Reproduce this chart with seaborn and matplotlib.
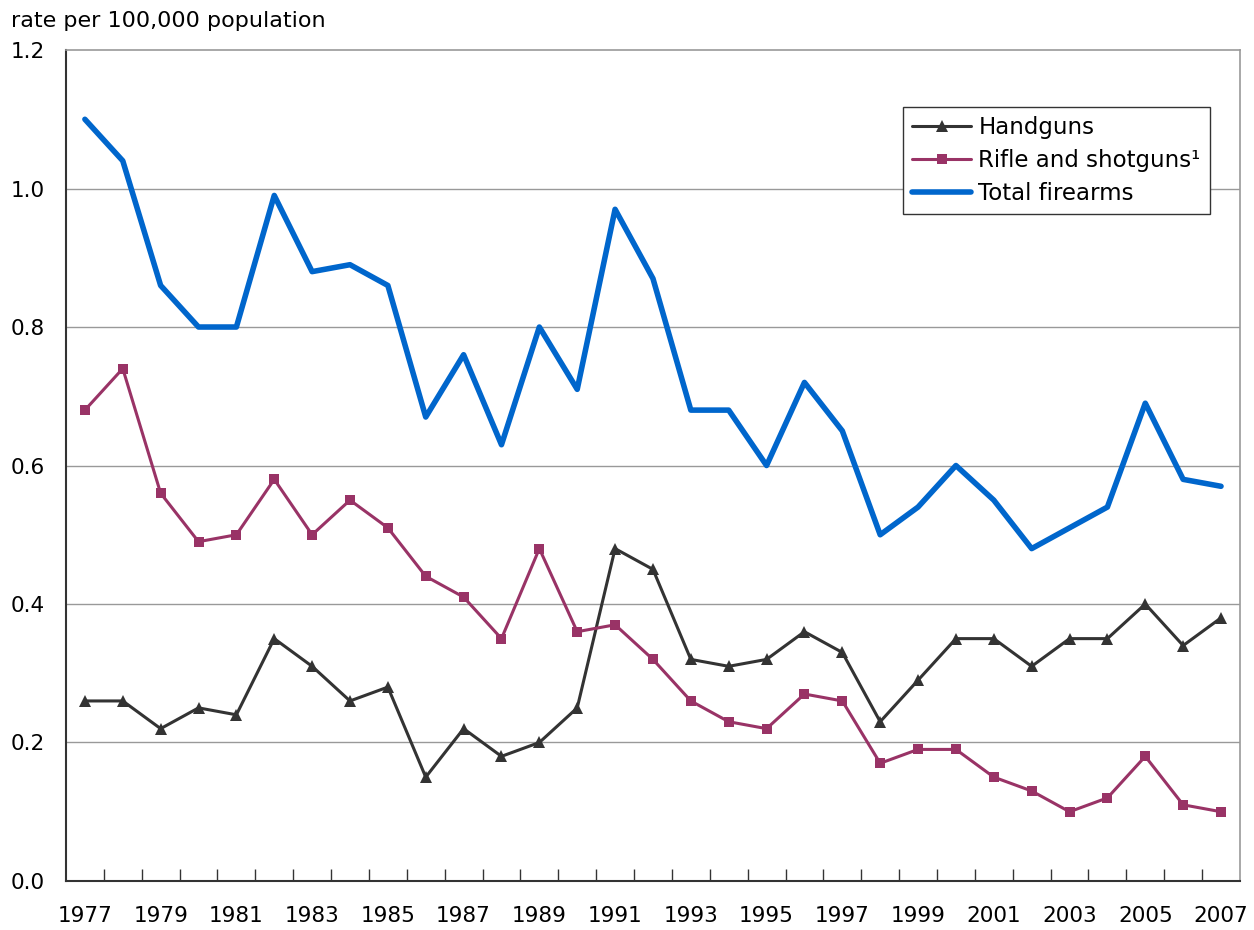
import numpy as np
import pandas as pd
import seaborn as sns
import matplotlib.pyplot as plt
from matplotlib.ticker import FixedLocator

years = list(range(1977, 2008))
handguns = [0.26, 0.26, 0.22, 0.25, 0.24, 0.35, 0.31, 0.26, 0.28, 0.15,
            0.22, 0.18, 0.20, 0.25, 0.48, 0.45, 0.32, 0.31, 0.32, 0.36,
            0.33, 0.23, 0.29, 0.35, 0.35, 0.31, 0.35, 0.35, 0.40, 0.34, 0.38]
rifles = [0.68, 0.74, 0.56, 0.49, 0.50, 0.58, 0.50, 0.55, 0.51, 0.44,
          0.41, 0.35, 0.48, 0.36, 0.37, 0.32, 0.26, 0.23, 0.22, 0.27,
          0.26, 0.17, 0.19, 0.19, 0.15, 0.13, 0.10, 0.12, 0.18, 0.11, 0.10]
total = [1.10, 1.04, 0.86, 0.80, 0.80, 0.99, 0.88, 0.89, 0.86, 0.67,
         0.76, 0.63, 0.80, 0.71, 0.97, 0.87, 0.68, 0.68, 0.60, 0.72,
         0.65, 0.50, 0.54, 0.60, 0.55, 0.48, 0.51, 0.54, 0.69, 0.58, 0.57]

df = pd.DataFrame({"year": years, "hand": handguns, "rifle": rifles, "total": total})

sns.set_style("white")
plt.rcParams["font.family"] = ["DejaVu Sans"]
plt.rcParams["text.color"] = "black"
plt.rcParams["xtick.color"] = "black"
plt.rcParams["ytick.color"] = "black"

fig = plt.figure(figsize=(12.54, 9.30), dpi=100)
ax = fig.add_axes([0.0526, 0.0527, 0.9362, 0.8935])

sns.lineplot(data=df, x="year", y="hand", ax=ax, color="#333333", lw=2.2,
             marker="^", markersize=8, markeredgewidth=0, label="Handguns")
sns.lineplot(data=df, x="year", y="rifle", ax=ax, color="#993366", lw=2.2,
             marker="s", markersize=7, markeredgewidth=0, label="Rifle and shotguns¹")
sns.lineplot(data=df, x="year", y="total", ax=ax, color="#0066CC", lw=4,
             label="Total firearms")

ax.set_xlim(1976.5, 2007.5)
ax.set_ylim(0, 1.2)
ax.set_yticks(np.arange(0, 1.21, 0.2))
ax.set_yticklabels([f"{v:.1f}" for v in np.arange(0, 1.21, 0.2)])
ax.set_xticks(years[::2])
ax.set_xticklabels([str(y) for y in years[::2]])
ax.xaxis.set_minor_locator(FixedLocator(np.arange(1977.5, 2007, 1.0)))
ax.tick_params(axis="x", which="major", length=0, pad=18, labelsize=15.5)
ax.tick_params(axis="x", which="minor", direction="in", length=9, width=1, color="#333333", bottom=True)
ax.tick_params(axis="y", length=0, pad=15, labelsize=15.5)

for v in np.arange(0.2, 1.01, 0.2):
    ax.axhline(v, color="#999999", lw=1, zorder=0)

ax.set_xlabel("")
ax.set_ylabel("")
for side in ["top", "right"]:
    ax.spines[side].set_color("#999999")
    ax.spines[side].set_linewidth(1.2)
for side in ["left", "bottom"]:
    ax.spines[side].set_color("#333333")
    ax.spines[side].set_linewidth(1.5)

leg = ax.legend(loc="upper right", bbox_to_anchor=(0.984, 0.945), fontsize=16.5,
                frameon=True, fancybox=False, edgecolor="#333333", framealpha=1,
                handlelength=2.6, borderpad=0.4, labelspacing=0.42, handletextpad=0.3)
leg.get_frame().set_linewidth(1)

fig.text(0.009, 0.977, "rate per 100,000 population", fontsize=16, va="center", ha="left")

fig.savefig("out.png", dpi=100)
